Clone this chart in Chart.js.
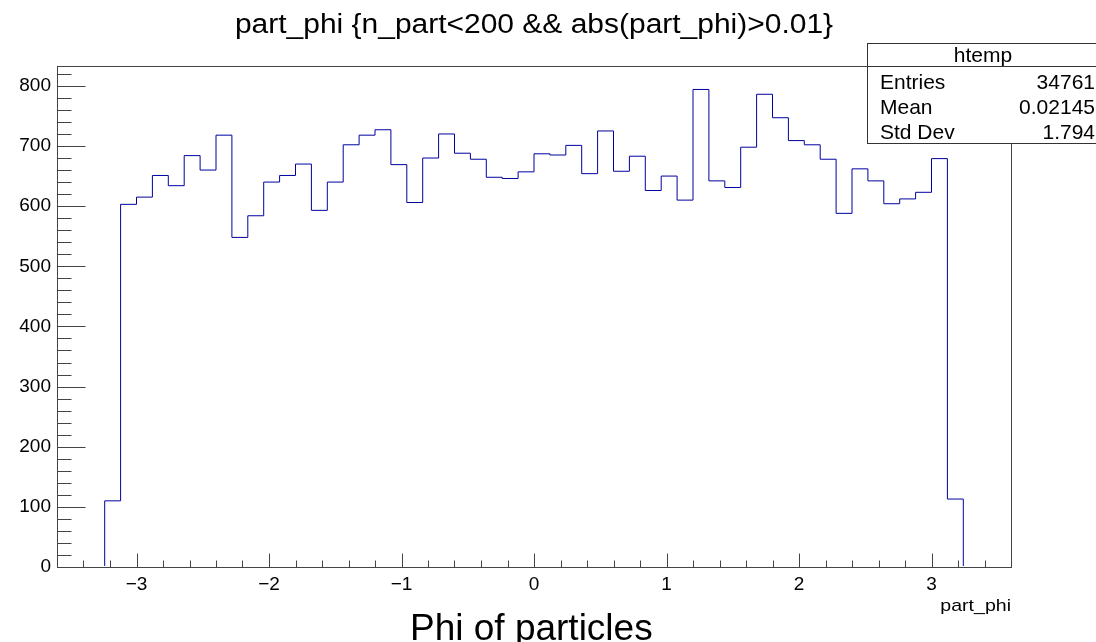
<!DOCTYPE html>
<html>
<head>
<meta charset="utf-8">
<script src="https://cdn.jsdelivr.net/npm/chart.js@4.4.0/dist/chart.umd.min.js"></script>
<style>
  html, body { margin: 0; padding: 0; background: #fff; }
  #wrap { width: 1096px; height: 642px; }
</style>
</head>
<body>
<div id="wrap"><canvas id="myChart" width="1096" height="642"></canvas></div>
<script>
// htemp: part_phi, 60 bins on [-3.6, 3.6]
const binLow = -3.6;
const binHigh = 3.6;
const nBins = 60;
const counts = [
    0, 0, 0,
    110, 603, 615, 651, 634, 684, 660, 718, 548, 584,
    640, 651, 670, 593, 640, 702, 718, 727, 669, 606,
    680, 720, 688, 678, 648, 646, 657, 687, 685, 701,
    654, 725, 658, 683, 626, 650, 610, 794, 642, 631,
    698, 786, 747, 709, 702, 678, 588, 662, 642, 604,
    612, 623, 679, 113,
    0, 0, 0
];
const yMax = 833;
const titleText = "part_phi {n_part<200 && abs(part_phi)>0.01}";
const statsName = "htemp";
const statsLabels = ["Entries", "Mean", "Std Dev"];
const statsValues = ["34761", "0.02145", "1.794"];

const FONT = "'Liberation Sans', Arial, Helvetica, sans-serif";
const binWidth = (binHigh - binLow) / nBins;

// left edge of each bin, plus closing point at the upper edge
let points = counts.map(function(c, i) {
    return { x: binLow + i * binWidth, y: c };
});
points.push({ x: binHigh, y: 0 });

function drawText(ctx, txt, x, y, size, align, sx) {
    ctx.save();
    ctx.font = size + "px " + FONT;
    ctx.fillStyle = "#000";
    ctx.textAlign = align;
    ctx.textBaseline = "alphabetic";
    ctx.translate(x, y);
    ctx.scale(sx || 1, 1);
    ctx.fillText(txt, 0, 0);
    ctx.restore();
}

const rootFrame = {
    id: "rootFrame",
    afterDatasetsDraw(chart) {
        const ctx = chart.ctx;
        const a = chart.chartArea;
        const xs = chart.scales.x;
        const ys = chart.scales.y;
        const L = Math.round(a.left) + 0.5, R = Math.round(a.right) + 0.5;
        const T = Math.round(a.top) + 0.5, B = Math.round(a.bottom) + 0.5;

        ctx.save();
        ctx.strokeStyle = "#444";
        ctx.lineWidth = 1;
        ctx.strokeRect(L, T, R - L, B - T);

        // x ticks, inside the frame
        ctx.beginPath();
        for (let k = -18; k <= 18; k++) {
            const v = k * 0.2;
            if (v <= binLow || v >= binHigh) continue;
            const px = Math.round(xs.getPixelForValue(v)) + 0.5;
            const len = (k % 5 === 0) ? 14 : 7;
            ctx.moveTo(px, B);
            ctx.lineTo(px, B - len);
        }
        // y ticks
        for (let v = 0; v <= yMax; v += 20) {
            const py = Math.round(ys.getPixelForValue(v)) + 0.5;
            const len = (v % 100 === 0) ? 28 : 14;
            ctx.moveTo(L, py);
            ctx.lineTo(L + len, py);
        }
        ctx.stroke();

        // stats box
        const bx = 867.5, by = 43.5, bw = 240, bh = 100;
        ctx.fillStyle = "#fff";
        ctx.fillRect(bx, by, bw, bh);
        ctx.strokeStyle = "#333";
        ctx.strokeRect(bx, by, bw, bh);
        ctx.beginPath();
        ctx.moveTo(bx, 66.5);
        ctx.lineTo(bx + bw, 66.5);
        ctx.stroke();
        ctx.restore();

        drawText(ctx, statsName, 983, 62, 21, "center");
        for (let i = 0; i < statsLabels.length; i++) {
            const base = 89 + i * 25;
            drawText(ctx, statsLabels[i], 880, base, 21, "left");
            drawText(ctx, statsValues[i], 1095, base, 21, "right");
        }

        // titles
        drawText(ctx, titleText, 534, 33, 27, "center", 1.11);
        drawText(ctx, "part_phi", 1011, 611, 17, "right", 1.15);
        drawText(ctx, "Phi of particles", 410, 640, 37, "left");
    }
};

function minus(v) {
    return v < 0 ? "\u2212" + Math.abs(v) : String(v);
}

const config = {
    type: "line",
    data: {
        datasets: [{
            data: points,
            stepped: "before",
            borderColor: "#0000a0",
            borderWidth: 1,
            pointRadius: 0,
            fill: false,
            clip: { left: 0, top: 0, right: 0, bottom: -1 }
        }]
    },
    options: {
        responsive: false,
        animation: false,
        devicePixelRatio: 1,
        layout: { padding: { left: 0, right: 85, top: 66, bottom: 0 } },
        plugins: {
            legend: { display: false },
            tooltip: { enabled: false },
            title: { display: false }
        },
        scales: {
            x: {
                type: "linear",
                min: binLow,
                max: binHigh,
                afterFit: function(s) { s.height = 75; },
                grid: { display: false, drawTicks: false },
                border: { display: false },
                ticks: {
                    stepSize: 1,
                    includeBounds: false,
                    maxRotation: 0,
                    autoSkip: false,
                    padding: 6,
                    color: "#000",
                    font: { family: FONT, size: 19 },
                    callback: minus
                }
            },
            y: {
                type: "linear",
                min: 0,
                max: yMax,
                afterFit: function(s) { s.width = 57; },
                grid: { display: false, drawTicks: false },
                border: { display: false },
                ticks: {
                    stepSize: 100,
                    includeBounds: false,
                    padding: 6,
                    color: "#000",
                    font: { family: FONT, size: 19 }
                }
            }
        }
    },
    plugins: [rootFrame]
};

new Chart(document.getElementById("myChart"), config);
</script>
</body>
</html>
